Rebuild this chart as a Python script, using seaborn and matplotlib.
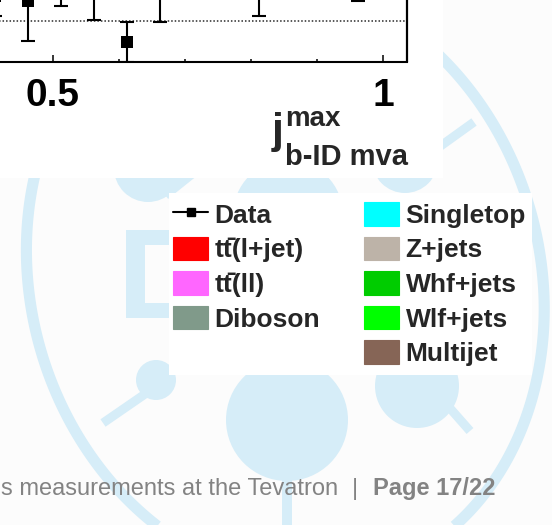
import numpy as np
import matplotlib
matplotlib.use("Agg")
import matplotlib.pyplot as plt
from matplotlib.patches import Rectangle, Circle, Patch
from matplotlib.lines import Line2D
from matplotlib.ticker import FixedLocator, MultipleLocator
import seaborn as sns

# Data / prediction ratio in bins of the leading-jet b-ID MVA output
bin_centers = [0.4125, 0.4625, 0.5125, 0.5625, 0.6125, 0.6625, 0.8125, 0.9625]
ratio = [1.13, 1.10, 1.15, 1.15, 0.895, 1.15, 1.17, 1.22]
ratio_err = [0.10, 0.20, 0.07, 0.14, 0.10, 0.15, 0.14, 0.12]

xtick_values = [0.5, 1.0]
xtick_labels = ["0.5", "1"]

# Legend content: two columns of samples
left_labels = ["Data", "tt\u0304(l+jet)", "tt\u0304(ll)", "Diboson"]
left_colors = [None, "#ff0000", "#ff66ff", "#809a8a"]
right_labels = ["Singletop", "Z+jets", "Whf+jets", "Wlf+jets", "Multijet"]
right_colors = ["#00ffff", "#bdb3a8", "#00cc00", "#00ff00", "#866556"]

footer_left = "s measurements at the Tevatron"
footer_page = "Page 17/22"

sns.set_theme(style="white")
plt.rcParams["font.family"] = ["Liberation Sans", "DejaVu Sans"]

W, H = 552, 525
WM = "#d6edf8"
GRAY = "#838383"

fig = plt.figure(figsize=(W / 100, H / 100), dpi=100)
fig.patch.set_facecolor("#fcfcfc")

# page layer in pixel units (y downwards)
bg = fig.add_axes([0, 0, 1, 1], zorder=0)
bg.set_xlim(0, W)
bg.set_ylim(H, 0)
bg.axis("off")

# watermark ring: ellipse fitted through points
ring_x = np.array([39.5, 26.5, 42.5, 71.5, 110, 130, 448, 500, 516, 535, 542.5, 537.5, 521, 481.5, 460])
ring_y = np.array([178, 268, 375, 442, 475, 485, 60, 133, 178, 233, 300, 367, 433, 500, 525])
u = (ring_x - 280) / 280
v = (ring_y - 300) / 280
M = np.column_stack([u * u, u * v, v * v, u, v])
coef, *_ = np.linalg.lstsq(M, np.ones_like(u), rcond=None)
gx, gy = np.meshgrid(np.linspace(-30, W + 30, 800), np.linspace(-30, H + 120, 800))
gu = (gx - 280) / 280
gv = (gy - 300) / 280
F = coef[0] * gu ** 2 + coef[1] * gu * gv + coef[2] * gv ** 2 + coef[3] * gu + coef[4] * gv
bg.contour(gx, gy, F, levels=[1.0], colors=[WM], linewidths=8)


def wm_circle(cx, cy, r):
    bg.add_patch(Circle((cx, cy), r, facecolor=WM, lw=0, zorder=1))


def wm_stick(x0, y0, x1, y1, w):
    bg.plot([x0, x1], [y0, y1], color=WM, lw=w * 0.72, solid_capstyle="butt", zorder=1)


# letter D of the logo
bg.add_patch(Rectangle((126, 230), 19, 88, facecolor=WM, lw=0, zorder=1))
bg.add_patch(Rectangle((126, 230), 60, 15, facecolor=WM, lw=0, zorder=1))
bg.add_patch(Rectangle((126, 303), 60, 15, facecolor=WM, lw=0, zorder=1))
# particle blobs and tracks
wm_circle(148, 168, 34)
wm_stick(165, 195, 205, 163, 10)
wm_circle(288, 215, 55)
wm_circle(405, 160, 33)
wm_stick(410, 168, 474, 122, 9)
wm_circle(156, 380, 20)
wm_stick(148, 392, 103, 423, 9)
wm_circle(287, 420, 61)
bg.add_patch(Rectangle((282, 470), 10, 60, facecolor=WM, lw=0, zorder=1))
wm_circle(417, 386, 42)
wm_stick(448, 406, 470, 431, 9)

# white panels holding the plot and the legend
bg.add_patch(Rectangle((0, 0), 443, 177.5, facecolor="white", lw=0, zorder=3))
bg.add_patch(Rectangle((169, 193), 363, 182, facecolor="white", lw=0, zorder=3))

# ratio panel
x_lo, x_hi = 0.3, 1.0364
y_lo, y_hi = 0.8, 1.2
ax_left, ax_right, ax_bottom, ax_top = -79.0, 407.0, 61.5, -18.5
ax = fig.add_axes([ax_left / W, 1 - ax_bottom / H, (ax_right - ax_left) / W, (ax_bottom - ax_top) / H], zorder=2)
ax.patch.set_visible(False)
ax.set_xlim(x_lo, x_hi)
ax.set_ylim(y_lo, y_hi)

ax.axhline(1.0, color="#2a2a2a", lw=1.1, ls=(0, (1, 1.3)), zorder=1)
ax.errorbar(bin_centers, ratio, yerr=ratio_err, fmt="none", ecolor="black",
            elinewidth=1.5, capsize=4.7, capthick=1.5, zorder=3)
sns.scatterplot(x=bin_centers, y=ratio, marker="s", s=74, color="black",
                edgecolor="black", linewidth=0, ax=ax, zorder=4, legend=False)

for side in ["left", "top"]:
    ax.spines[side].set_visible(False)
ax.spines["bottom"].set_linewidth(1.5)
ax.spines["right"].set_linewidth(1.6)
for side in ["bottom", "right"]:
    ax.spines[side].set_color("black")

ax.set_yticks([])
ax.xaxis.set_major_locator(FixedLocator(xtick_values))
ax.xaxis.set_minor_locator(MultipleLocator(0.1))
ax.set_xticklabels(xtick_labels, fontsize=28, fontweight="bold")
ax.tick_params(axis="x", which="major", direction="in", length=5, width=1.1, pad=12,
               bottom=True, top=False, colors="black")
ax.tick_params(axis="x", which="minor", direction="in", length=2.5, width=1.1,
               bottom=True, top=False, colors="black")

# axis title j^max_{b-ID mva}
pix = bg.transData
fig.text(272, 143, "j", transform=pix, fontsize=31, fontweight="bold", va="baseline", ha="left")
fig.text(285, 126, "max", transform=pix, fontsize=20, fontweight="bold", va="baseline", ha="left")
fig.text(285, 165, "b-ID mva", transform=pix, fontsize=21, fontweight="bold",
         va="baseline", ha="left")

# legend
prop = dict(family="Liberation Sans", weight="bold", size=19)
left_handles = [Line2D([], [], color="black", lw=1.5, marker="s", ms=6)]
left_handles += [Patch(facecolor=c, edgecolor=c, lw=0.8, joinstyle="round") for c in left_colors[1:]]
right_handles = [Patch(facecolor=c, edgecolor=c, lw=0.8, joinstyle="round") for c in right_colors]
common = dict(loc="upper left", bbox_transform=pix, frameon=False, borderpad=0, borderaxespad=0,
              handlelength=1.33, handleheight=1.0, handletextpad=0.25, labelspacing=0.33, prop=prop)
fig.legend(left_handles, left_labels, bbox_to_anchor=(173, 202), **common)
fig.legend(right_handles, right_labels, bbox_to_anchor=(364, 202), **common)

# footer
fig.text(338, 495, footer_left, transform=pix, fontsize=17, color=GRAY, ha="right", va="baseline")
fig.text(355, 495, "|", transform=pix, fontsize=17, color=GRAY, ha="center", va="baseline")
fig.text(373, 495, footer_page, transform=pix, fontsize=17, color=GRAY, fontweight="bold",
         ha="left", va="baseline")

fig.savefig("out.png", dpi=100, facecolor=fig.get_facecolor())
